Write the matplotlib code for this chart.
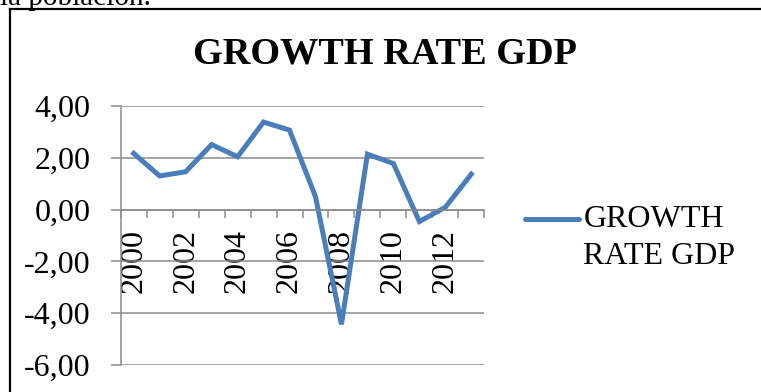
import matplotlib
matplotlib.use("Agg")
import matplotlib.pyplot as plt
from matplotlib.lines import Line2D
from matplotlib.legend_handler import HandlerLine2D
import numpy as np

years = list(range(2000, 2014))
growth = [2.17, 1.30, 1.46, 2.51, 2.04, 3.38, 3.07, 0.50, -4.43, 2.14, 1.78, -0.46, 0.09, 1.37]
yticks = [-6, -4, -2, 0, 2, 4]
series_name = "GROWTH\nRATE GDP"

plt.rcParams['font.family'] = ['Liberation Serif', 'DejaVu Serif']
blue = '#4A7EBB'
grid = '#8C8C8C'


class FirstLineHandler(HandlerLine2D):
    """Legend line drawn level with the first row of a two-row label."""
    def __init__(self, lift, **kw):
        super().__init__(**kw)
        self.lift = lift

    def create_artists(self, legend, orig_handle, xdescent, ydescent, width,
                       height, fontsize, trans):
        arts = super().create_artists(legend, orig_handle, xdescent, ydescent,
                                      width, height, fontsize, trans)
        for a in arts:
            a.set_ydata(np.asarray(a.get_ydata()) + self.lift)
        return arts


W, H = 761, 392
fig = plt.figure(figsize=(W / 100, H / 100), dpi=100)

# text from the page above the chart, cut off by the crop
fig.text(0, 1 - 5 / H, "la población.", fontsize=21, va='baseline', ha='left')

# chart frame (only left and top edges fall inside the image)
fig.add_artist(Line2D([9.5 / W, 9.5 / W], [0, 1 - 8.5 / H], transform=fig.transFigure,
                      color='black', lw=1.6))
fig.add_artist(Line2D([9.5 / W, 1], [1 - 8.5 / H, 1 - 8.5 / H], transform=fig.transFigure,
                      color='black', lw=1.6))

left, right = 120.7, 484.3
top, bottom = 106.0, 365.0
ax = fig.add_axes([left / W, (H - bottom) / H, (right - left) / W, (bottom - top) / H])

x = np.arange(len(years))
line, = ax.plot(x, growth, color=blue, lw=3.6, solid_joinstyle='miter', label=series_name)

ax.set_xlim(-0.5, len(years) - 0.5)
ax.set_ylim(-6, 4)
ax.set_yticks(yticks)
ax.set_yticklabels([f"{v:.2f}".replace('.', ',') for v in yticks])
ax.yaxis.grid(True, color=grid, lw=1.1)
ax.set_axisbelow(True)

for s in ['top', 'right']:
    ax.spines[s].set_visible(False)
ax.spines['left'].set_color(grid)
ax.spines['left'].set_linewidth(1.1)
ax.spines['bottom'].set_position(('data', 0))
ax.spines['bottom'].set_color(grid)
ax.spines['bottom'].set_linewidth(1.1)

# tick marks on category boundaries, labels on every second year
ax.set_xticks(np.arange(len(years) + 1) - 0.5)
ax.set_xticklabels([])
ax.set_xticks(x[::2], minor=True)
ax.set_xticklabels([str(y) for y in years[::2]], minor=True, rotation=90, fontsize=23)
ax.tick_params(axis='x', which='major', direction='out', length=6, width=1.1, color=grid)
ax.tick_params(axis='x', which='minor', length=0, pad=14)
ax.tick_params(axis='y', direction='out', length=7, width=1.1, color=grid,
               labelsize=23, pad=14.6)

fig.text(384.8 / W, 1 - 63 / H, "GROWTH RATE GDP", fontsize=27.5, fontweight='bold',
         ha='center', va='baseline')

leg = ax.legend(loc='upper left', bbox_to_anchor=(525 / W, 1 - 205 / H),
                bbox_transform=fig.transFigure, frameon=False, fontsize=23,
                handlelength=1.7, handletextpad=0.13, borderpad=0, borderaxespad=0,
                labelspacing=0, handler_map={line: FirstLineHandler(lift=13.3)})
for t in leg.get_texts():
    t.set_linespacing(1.36)
for h in leg.legend_handles:
    h.set_solid_capstyle('round')

fig.savefig("out.png", dpi=100)
